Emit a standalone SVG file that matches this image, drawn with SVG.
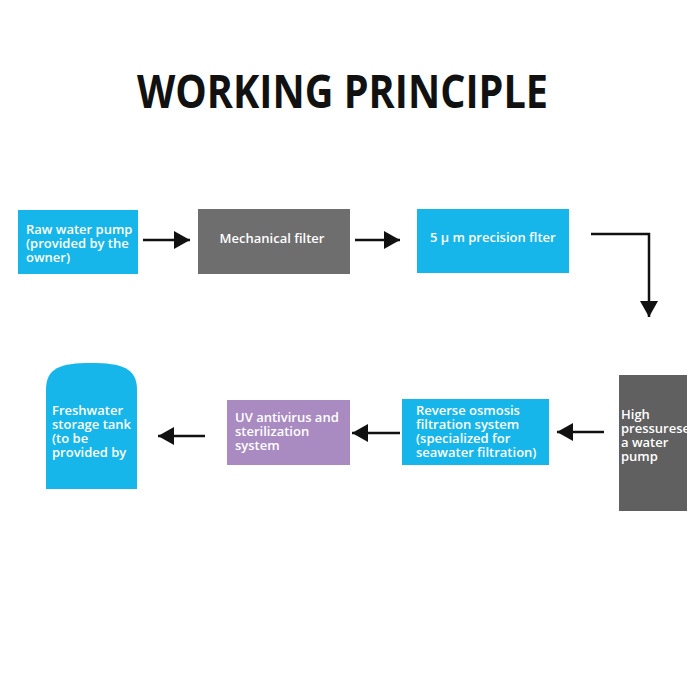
<svg xmlns="http://www.w3.org/2000/svg" width="700" height="700" viewBox="0 0 700 700">
<defs>
<style>
.t{font-family:"Open Sans","Liberation Sans",sans-serif;font-size:13px;font-weight:600;fill:#ffffff}
.title{font-family:"Open Sans","Liberation Sans",sans-serif;font-weight:bold;font-size:46px;fill:#111111}
.cyan{fill:#16b6ea}
.grey{fill:#6e6e6e}
.dgrey{fill:#606060}
.purple{fill:#a98bc1}
.ln{stroke:#111111;stroke-width:2.5;fill:none}
</style>
<marker id="ah" viewBox="0 0 10 10" refX="10" refY="5" markerWidth="16" markerHeight="18" markerUnits="userSpaceOnUse" orient="auto" preserveAspectRatio="none">
<path d="M0,0 L10,5 L0,10 z" fill="#111111"/>
</marker>
</defs>
<rect width="700" height="700" fill="#ffffff"/>
<text class="title" x="137" y="108" textLength="411" lengthAdjust="spacingAndGlyphs">WORKING PRINCIPLE</text>

<g id="raw-water-pump">
<rect class="cyan" x="18" y="210" width="120" height="64"/>
<text class="t"><tspan x="26" y="234">Raw water pump</tspan><tspan x="26" y="248">(provided by the</tspan><tspan x="26" y="262">owner)</tspan></text>
</g>
<g id="mechanical-filter">
<rect class="grey" x="198" y="209" width="152" height="65"/>
<text class="t" x="272" y="243" text-anchor="middle">Mechanical filter</text>
</g>
<g id="precision-filter">
<rect class="cyan" x="417" y="209" width="152" height="64"/>
<text class="t" x="430" y="242">5 μ m precision flter</text>
</g>
<g id="high-pressure-pump">
<rect class="dgrey" x="619" y="375" width="68" height="136"/>
<text class="t"><tspan x="621" y="419">High</tspan><tspan x="621" y="433">pressurese</tspan><tspan x="621" y="447">a water</tspan><tspan x="621" y="461">pump</tspan></text>
</g>
<g id="reverse-osmosis">
<rect class="cyan" x="402" y="399" width="147" height="66"/>
<text class="t"><tspan x="416" y="415">Reverse osmosis</tspan><tspan x="416" y="429">filtration system</tspan><tspan x="416" y="443">(specialized for</tspan><tspan x="416" y="457">seawater filtration)</tspan></text>
</g>
<g id="uv-sterilization">
<rect class="purple" x="227" y="400" width="123" height="65"/>
<text class="t"><tspan x="235" y="422">UV antivirus and</tspan><tspan x="235" y="436">sterilization</tspan><tspan x="235" y="450">system</tspan></text>
</g>
<g id="freshwater-tank">
<path class="cyan" d="M46,489 L46,390 C46,368 60,363 91,363 C122,363 137,368 137,390 L137,489 Z"/>
<text class="t"><tspan x="52" y="415">Freshwater</tspan><tspan x="52" y="429">storage tank</tspan><tspan x="52" y="443">(to be</tspan><tspan x="52" y="457">provided by</tspan></text>
</g>

<g id="connectors">
<line class="ln" x1="143" y1="240" x2="190" y2="240" marker-end="url(#ah)"/>
<line class="ln" x1="355" y1="240" x2="400" y2="240" marker-end="url(#ah)"/>
<polyline class="ln" points="591,234 649,234 649,317" marker-end="url(#ah)"/>
<line class="ln" x1="604" y1="432" x2="557" y2="432" marker-end="url(#ah)"/>
<line class="ln" x1="400" y1="433" x2="352" y2="433" marker-end="url(#ah)"/>
<line class="ln" x1="205" y1="436" x2="158" y2="436" marker-end="url(#ah)"/>
</g>
</svg>
